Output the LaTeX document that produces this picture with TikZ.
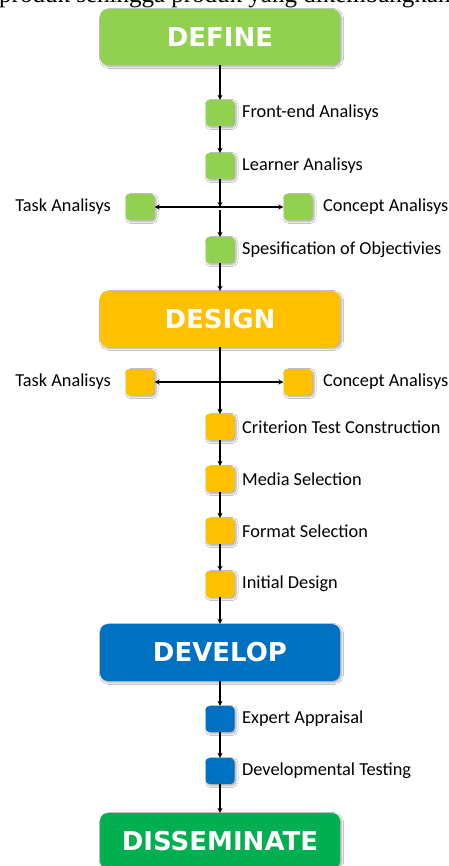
\documentclass[tikz,border=0pt]{standalone}
\usepackage{fontspec}
\setmainfont{Carlito}
\newfontfamily\headfont{DejaVu Sans}
\newfontfamily\bodyserif{Liberation Serif}
\usetikzlibrary{arrows.meta,shadows.blur}
\definecolor{defgreen}{HTML}{92D050}
\definecolor{desyellow}{HTML}{FFC000}
\definecolor{devblue}{HTML}{0070C0}
\definecolor{disgreen}{HTML}{00B050}
\begin{document}
\begin{tikzpicture}[x=1pt,y=1pt,
  softshadow/.style={blur shadow={shadow xshift=1.5pt, shadow yshift=-1.5pt,
      shadow blur steps=6, shadow blur radius=2pt, shadow opacity=35}},
  phase/.style={rounded corners=8pt, minimum width=240pt, minimum height=56pt,
      inner sep=0pt, text=white, font=\headfont\bfseries\fontsize{26}{30}\selectfont,
      softshadow},
  stepbox/.style={rounded corners=4pt, minimum width=29pt, minimum height=26pt,
      inner sep=0pt, softshadow},
  lbl/.style={font=\fontsize{18.3}{22}\selectfont, inner sep=0pt},
  flow/.style={-{Stealth[length=5pt,width=5pt]}, line width=1.3pt},
  both/.style={{Stealth[length=5pt,width=5pt]}-{Stealth[length=5pt,width=5pt]}, line width=1.3pt},
]
\useasboundingbox (0,0) rectangle (448,-866);
\clip (0,0) rectangle (448,-866);
\fill[white] (0,0) rectangle (448,-866);

% running text above the figure, only its lower edge lies inside the frame
\node[anchor=base west, inner sep=0pt, font=\bodyserif\fontsize{25}{29}\selectfont]
  (runtext) at (-1,-3) {produk sehingga produk yang dikembangkan};

% ---------- DEFINE ----------
\node[phase, fill=defgreen] (define) at (220,-37) {DEFINE};
\node[stepbox, fill=defgreen] (fe) at (220,-113) {};
\node[stepbox, fill=defgreen] (la) at (220,-166) {};
\coordinate (jd) at (220,-207);
\node[stepbox, fill=defgreen] (tad) at (140,-207) {};
\node[stepbox, fill=defgreen] (cad) at (298,-207) {};
\node[stepbox, fill=defgreen] (so) at (220,-250) {};

\node[lbl, anchor=west] at (242,-113) {Front-end Analisys};
\node[lbl, anchor=west] at (242,-166) {Learner Analisys};
\node[lbl, anchor=east] at (111,-207) {Task Analisys};
\node[lbl, anchor=west] at (323,-207) {Concept Analisys};
\node[lbl, anchor=west] at (242,-250) {Spesification of Objectivies};

\draw[flow] (define) -- (fe);
\draw[flow] (fe) -- (la);
\draw[flow] (la) -- (jd);
\draw[both] (tad) -- (cad);
\draw[flow] ([yshift=-3pt]jd) -- (so);

% ---------- DESIGN ----------
\node[phase, fill=desyellow] (design) at (220,-319) {DESIGN};
\draw[flow] (so) -- (design);
\coordinate (jg) at (220,-382);
\node[stepbox, fill=desyellow] (tag) at (140,-382) {};
\node[stepbox, fill=desyellow] (cag) at (298,-382) {};
\node[stepbox, fill=desyellow] (ctc) at (220,-427) {};
\node[stepbox, fill=desyellow] (ms) at (220,-479) {};
\node[stepbox, fill=desyellow] (fs) at (220,-531) {};
\node[stepbox, fill=desyellow] (id) at (220,-584) {};

\node[lbl, anchor=east] at (111,-382) {Task Analisys};
\node[lbl, anchor=west] at (323,-382) {Concept Analisys};
\node[lbl, anchor=west] at (242,-427) {Criterion Test Construction};
\node[lbl, anchor=west] at (242,-479) {Media Selection};
\node[lbl, anchor=west] at (242,-531) {Format Selection};
\node[lbl, anchor=west] at (242,-584) {Initial Design};

\draw[flow] (design) -- (ctc);
\draw[both] (tag) -- (cag);
\draw[flow] (ctc) -- (ms);
\draw[flow] (ms) -- (fs);
\draw[flow] (fs) -- (id);

% ---------- DEVELOP ----------
\node[phase, fill=devblue, minimum height=57pt] (develop) at (220,-652.5) {DEVELOP};
\draw[flow] (id) -- (develop);
\node[stepbox, fill=devblue] (ea) at (220,-719) {};
\node[stepbox, fill=devblue] (dt) at (220,-771) {};
\node[lbl, anchor=west] at (242,-719) {Expert Appraisal};
\node[lbl, anchor=west] at (242,-771) {Developmental Testing};
\draw[flow] (develop) -- (ea);
\draw[flow] (ea) -- (dt);

% ---------- DISSEMINATE ----------
\node[phase, fill=disgreen] (dissem) at (220,-841) {DISSEMINATE};
\draw[flow] (dt) -- (dissem);
\end{tikzpicture}
\end{document}
